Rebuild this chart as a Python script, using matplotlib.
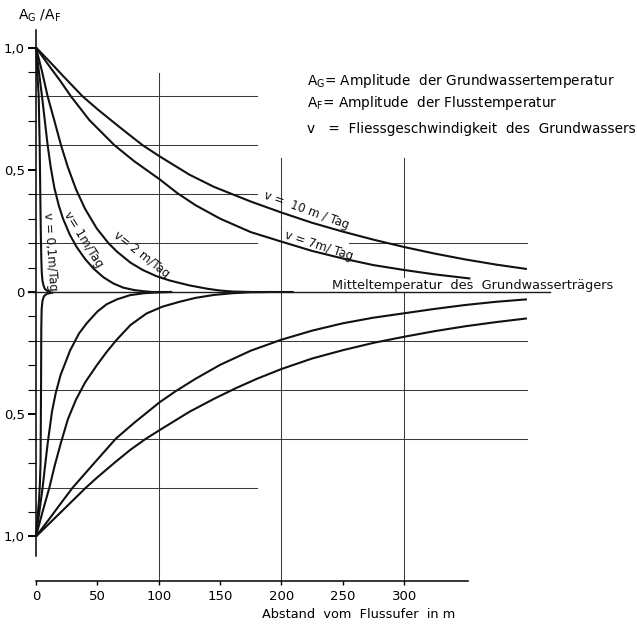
import matplotlib.pyplot as plt
import numpy as np

plt.rcParams['font.family'] = 'DejaVu Sans'
plt.rcParams['mathtext.default'] = 'regular'

# Verhaeltnis A_G/A_F ueber dem Abstand vom Flussufer (m)
# obere Kurvenschar: Abnahme von 1 auf 0
x_v01_oben = [0, 1, 2.2, 3, 3.5, 3.9, 4.3, 4.7, 5.3, 6.2, 7.3, 9.5, 12]
y_v01_oben = [1.0, 0.9, 0.8, 0.6, 0.4, 0.25, 0.14, 0.08, 0.045, 0.025, 0.012, 0.004, 0.0]
x_v1_oben = [0, 2.4, 4.9, 7.2, 9.5, 12, 15, 18.5, 22, 27.5, 33, 40, 47, 55, 63, 71, 80, 88,
             95, 111]
y_v1_oben = [1.0, 0.9, 0.8, 0.7, 0.6, 0.51, 0.425, 0.355, 0.3, 0.235, 0.185, 0.135, 0.095,
             0.06, 0.035, 0.018, 0.008, 0.003, 0.0, 0.0]
x_v2_oben = [0, 5, 9.5, 15, 20.4, 26, 32.6, 40, 49.5, 59, 66, 77, 87, 98, 109, 125, 140,
             150, 160, 175, 210]
y_v2_oben = [1.0, 0.9, 0.8, 0.7, 0.6, 0.51, 0.42, 0.34, 0.26, 0.2, 0.165, 0.12, 0.09,
             0.065, 0.047, 0.027, 0.013, 0.006, 0.002, 0.0, 0.0]
x_v7_oben = [0, 11, 20, 28.5, 43.5, 64, 80, 101, 115, 130, 150, 175, 200, 225, 250, 275,
             300, 325, 354]
y_v7_oben = [1.0, 0.923, 0.862, 0.8, 0.703, 0.6, 0.535, 0.46, 0.405, 0.355, 0.3, 0.245,
             0.206, 0.168, 0.137, 0.11, 0.09, 0.072, 0.055]
x_v10_oben = [0, 11, 22, 38, 50, 62.5, 75, 87, 101, 125, 145, 160, 175, 200, 225, 250, 275,
              300, 325, 350, 375, 400]
y_v10_oben = [1.0, 0.943, 0.884, 0.8, 0.748, 0.697, 0.647, 0.6, 0.554, 0.48, 0.43, 0.4,
              0.37, 0.325, 0.283, 0.247, 0.214, 0.184, 0.157, 0.133, 0.112, 0.094]

# untere Kurvenschar: Anstieg von -1 auf 0
x_v01_unten = [0, 1.2, 2.5, 3.2, 3.7, 4.1, 4.3, 4.6, 5.3, 6.5, 9, 14]
y_v01_unten = [-1.0, -0.92, -0.85, -0.78, -0.7, -0.4, -0.15, -0.07, -0.035, -0.017, -0.007,
               -0.002]
x_v1_unten = [0, 2.7, 5.4, 7.4, 9.5, 13, 16, 20, 27.7, 35, 41.3, 50, 57.6, 66, 76.6, 88,
              98, 110]
y_v1_unten = [-1.0, -0.9, -0.8, -0.71, -0.62, -0.49, -0.415, -0.34, -0.24, -0.17, -0.128,
              -0.08, -0.05, -0.03, -0.013, -0.005, -0.002, 0.0]
x_v2_unten = [0, 5, 10.9, 15.5, 20.4, 26, 32.6, 40, 49.5, 57.6, 65.8, 77, 90, 103, 117, 130,
              145, 160, 175, 190]
y_v2_unten = [-1.0, -0.905, -0.8, -0.705, -0.615, -0.52, -0.44, -0.37, -0.3, -0.245,
              -0.195, -0.135, -0.088, -0.06, -0.04, -0.024, -0.012, -0.005, -0.001, 0.0]
x_v7_unten = [0, 11, 20, 29.9, 46, 65, 80, 101, 114, 130, 150, 175, 200, 225, 250, 275, 300,
              325, 350, 375, 400]
y_v7_unten = [-1.0, -0.927, -0.866, -0.8, -0.708, -0.6, -0.535, -0.45, -0.405, -0.355,
              -0.298, -0.24, -0.195, -0.158, -0.128, -0.105, -0.087, -0.069, -0.053, -0.04,
              -0.03]
x_v10_unten = [0, 11, 22, 40.7, 50, 65, 77, 89.6, 101, 125, 145, 163, 180, 200, 225, 250, 275,
               300, 325, 350, 375, 400]
y_v10_unten = [-1.0, -0.946, -0.892, -0.8, -0.758, -0.694, -0.645, -0.6, -0.564, -0.49,
               -0.437, -0.393, -0.355, -0.315, -0.272, -0.238, -0.208, -0.183, -0.16, -0.14,
               -0.123, -0.108]

x_ticks = [0, 50, 100, 150, 200, 250, 300]
y_ticks = [-1.0, -0.5, 0, 0.5, 1.0]
y_ticklabels = ['1,0', '0,5', '0', '0,5', '1,0']

fig = plt.figure(figsize=(6.37, 6.25), dpi=100)
ax = fig.add_axes([36 / 637, 1 - 580.5 / 625, 490.9 / 637, 550.1 / 625])
ax.set_xlim(0, 400)
ax.set_ylim(-1.18, 1.07)

linie = dict(color='#3a3a3a', lw=0.75, zorder=1)
# waagerechte Hilfslinien
for y in [0.8, 0.6, 0.4, 0.2, -0.8]:
    ax.plot([0, 180], [y, y], clip_on=False, **linie)
ax.plot([255, 400], [0.2, 0.2], clip_on=False, **linie)
for y in [-0.2, -0.4, -0.6]:
    ax.plot([0, 400], [y, y], clip_on=False, **linie)
# senkrechte Hilfslinien
ax.plot([100, 100], [0.896, -1.18], clip_on=False, **linie)
for x in [200, 300]:
    ax.plot([x, x], [0.548, -1.18], clip_on=False, **linie)
# Mittellinie
ax.plot([-6.5, 419], [0, 0], color='#1a1a1a', lw=1.0, clip_on=False, zorder=4)

kurven = [
    (x_v01_oben, y_v01_oben), (x_v1_oben, y_v1_oben), (x_v2_oben, y_v2_oben),
    (x_v7_oben, y_v7_oben), (x_v10_oben, y_v10_oben),
    (x_v01_unten, y_v01_unten), (x_v1_unten, y_v1_unten), (x_v2_unten, y_v2_unten),
    (x_v7_unten, y_v7_unten), (x_v10_unten, y_v10_unten),
]
for xs, ys in kurven:
    ax.plot(xs, ys, color='#111111', lw=1.5, solid_capstyle='butt',
            solid_joinstyle='round', clip_on=False, zorder=3)

# Beschriftung der Kurven
kw = dict(fontsize=8.5, ha='center', va='center', rotation_mode='anchor', color='#111111')
ax.text(220, 0.335, 'v =  10 m / Tag', rotation=-20, **kw)
ax.text(230.6, 0.19, 'v = 7m/ Tag', rotation=-18, **kw)
ax.text(85.6, 0.151, 'v= 2 m/Tag', rotation=-38, **kw)
ax.text(39, 0.213, 'v= 1m/Tag', rotation=-58, **kw)
ax.text(11.4, 0.164, 'v = 0,1m/Tag', rotation=-86, **kw)

ax.text(241, 0.012, 'Mitteltemperatur  des  Grundwasserträgers', fontsize=9.3,
        va='baseline', ha='left', color='#111111', zorder=2,
        bbox=dict(facecolor='white', edgecolor='none', pad=0.5))

# Achsen
for s in ['top', 'right']:
    ax.spines[s].set_visible(False)
ax.spines['left'].set_bounds(-1.08, 1.07)
ax.spines['bottom'].set_bounds(0, 352)
ax.spines['left'].set_linewidth(1.1)
ax.spines['bottom'].set_linewidth(1.1)
ax.set_xticks(x_ticks)
ax.set_xticks([0], minor=True)
ax.set_yticks(y_ticks)
ax.set_yticklabels(y_ticklabels)
ax.set_yticks(np.arange(-1.0, 1.05, 0.1), minor=True)
ax.tick_params(axis='x', which='major', direction='out', length=3, width=1, labelsize=9.5, pad=4)
ax.tick_params(axis='x', which='minor', direction='in', length=6, width=1)
ax.tick_params(axis='y', which='major', direction='out', length=6, width=1.4, labelsize=9.5, pad=2)
ax.tick_params(axis='y', which='minor', direction='out', length=6, width=0.8)

fig.text(18 / 637, 1 - 20 / 625, 'A$_G$ /A$_F$', fontsize=10, va='baseline', ha='left')
fig.text(359 / 637, 1 - 614 / 625, 'Abstand  vom  Flussufer  in m', fontsize=9.3,
         ha='center', va='center')

# Legende
fig.text(307 / 637, 1 - 85 / 625, 'A$_G$= Amplitude  der Grundwassertemperatur',
         fontsize=9.8, va='baseline', ha='left')
fig.text(307 / 637, 1 - 107 / 625, 'A$_F$= Amplitude  der Flusstemperatur',
         fontsize=9.8, va='baseline', ha='left')
fig.text(307 / 637, 1 - 133 / 625, 'v   =  Fliessgeschwindigkeit  des  Grundwassers',
         fontsize=9.8, va='baseline', ha='left')

fig.savefig('out.png', dpi=100, facecolor='white')
